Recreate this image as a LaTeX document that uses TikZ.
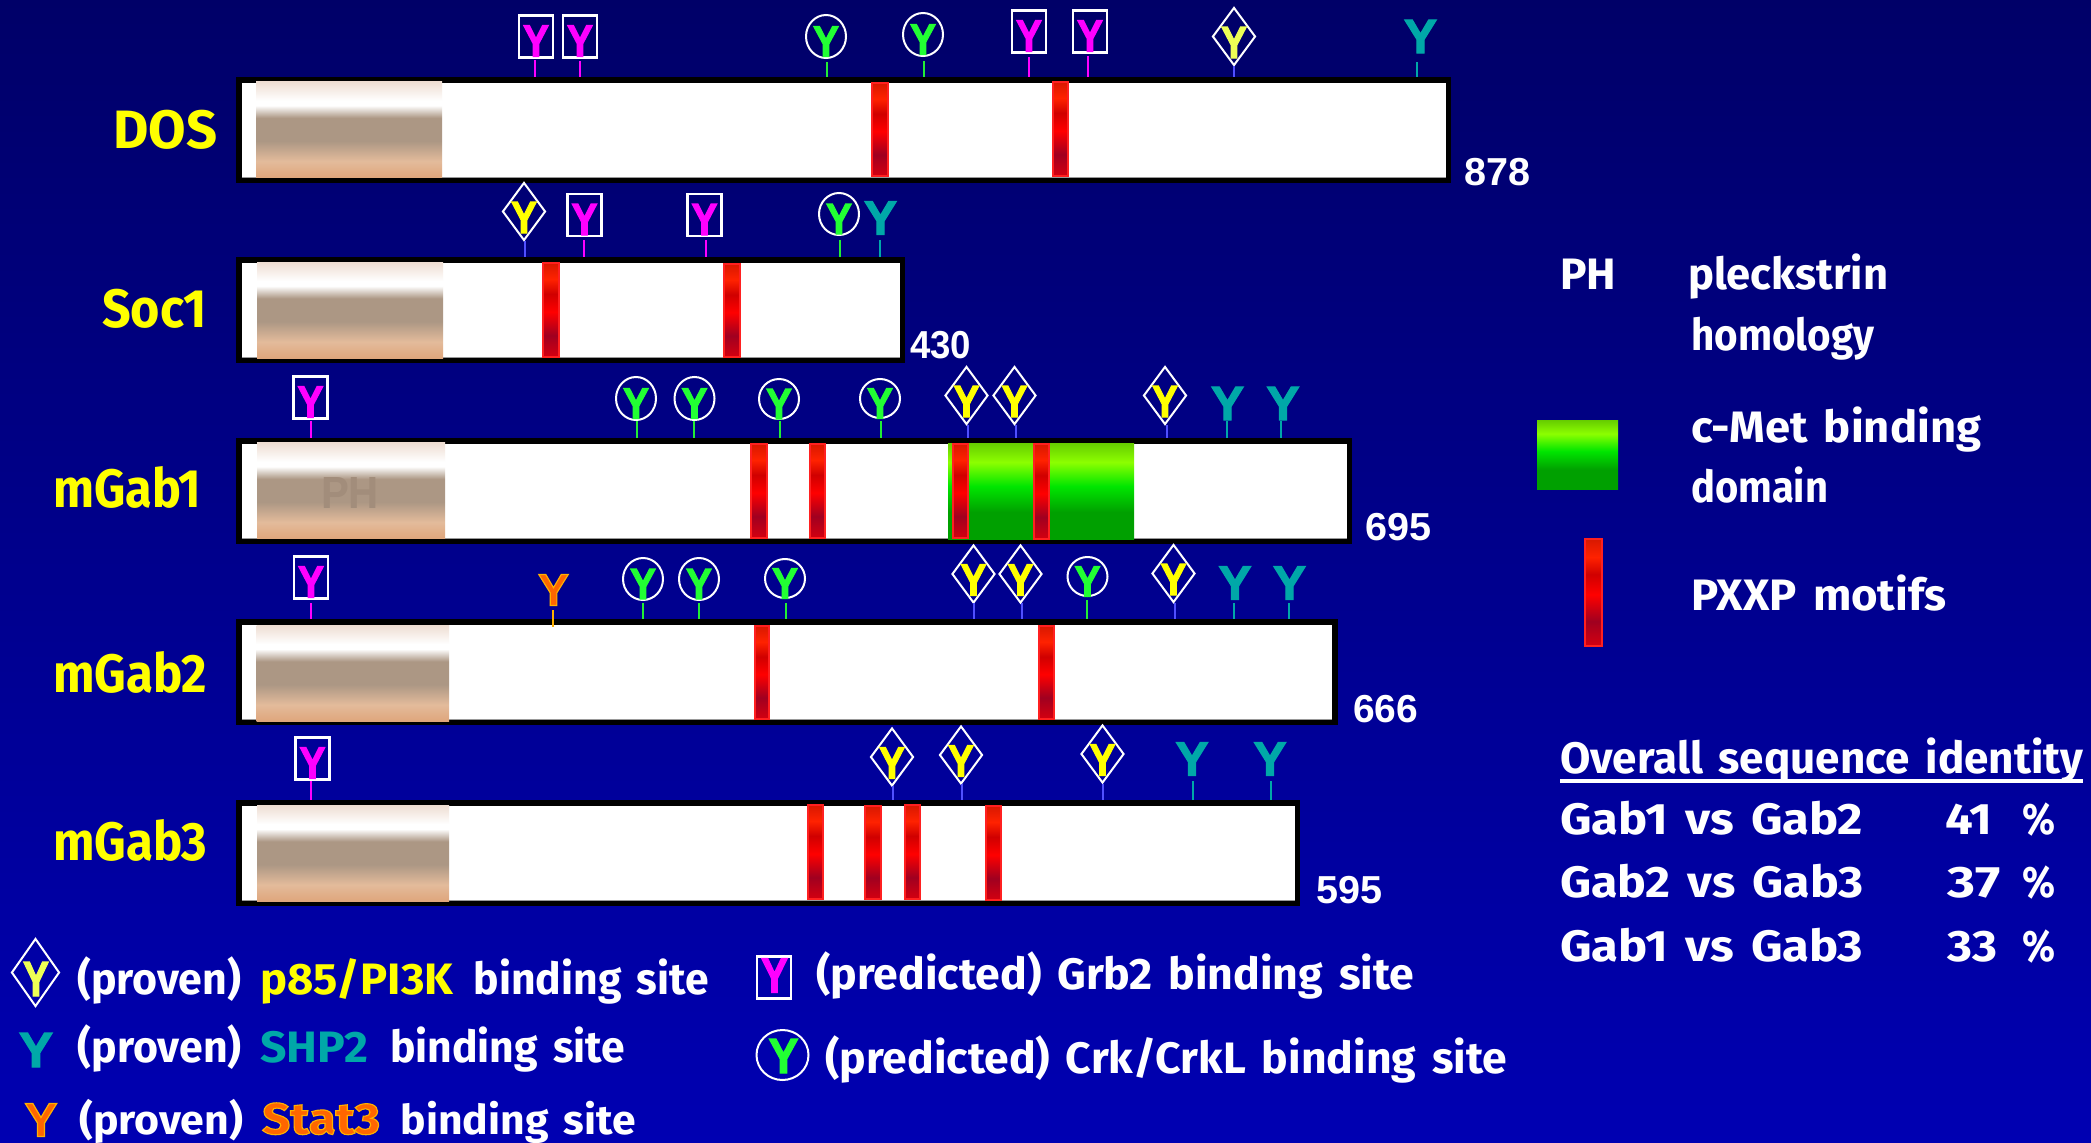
\documentclass[tikz,border=0pt]{standalone}
\usepackage{fontspec}
\usepackage{graphicx}
\usetikzlibrary{shapes.geometric}
\setmainfont{Fira Sans}[WordSpace=1.5]
\newfontfamily\nfont{Liberation Sans}
\newfontfamily\yfont{Liberation Sans}[FakeBold=2.5]
\newfontfamily\statfont{Fira Sans}[FakeBold=2.5]
\definecolor{bgtop}{HTML}{000068}
\definecolor{bgbot}{HTML}{0000B2}
\definecolor{ymag}{HTML}{FF00FF}
\definecolor{ygreen}{HTML}{22FF33}
\definecolor{lgreen}{HTML}{22EE33}
\definecolor{yyel}{HTML}{FFFF00}
\definecolor{ypale}{HTML}{EEFF55}
\definecolor{yteal}{HTML}{00A8A8}
\definecolor{yorange}{HTML}{FF6600}
\definecolor{lorange}{HTML}{FFB000}
\definecolor{lblue}{HTML}{5050FF}
\definecolor{ph0}{HTML}{EEDDD2}
\definecolor{ph1}{HTML}{FFFFFF}
\definecolor{ph2}{HTML}{AC9784}
\definecolor{ph3}{HTML}{E3BB9B}
\definecolor{ph4}{HTML}{DFA67C}
\definecolor{phtext}{HTML}{A28D7B}
\definecolor{gr0}{HTML}{66CC00}
\definecolor{gr1}{HTML}{8CFF00}
\definecolor{gr2}{HTML}{00E600}
\definecolor{gr3}{HTML}{00A000}
\definecolor{re0}{HTML}{D81800}
\definecolor{re1}{HTML}{FF2200}
\definecolor{re2}{HTML}{D00000}
\definecolor{re3}{HTML}{FF0000}
\definecolor{re4}{HTML}{A00020}
\definecolor{re5}{HTML}{D40010}
\definecolor{reborder}{HTML}{FF2020}
\definecolor{barline}{HTML}{999999}
\pgfdeclareverticalshading{phgrad}{100bp}{color(0bp)=(ph4); color(25bp)=(ph4); color(33.5bp)=(ph3); color(44bp)=(ph2); color(56bp)=(ph2); color(62.5bp)=(ph1); color(65bp)=(ph1); color(75bp)=(ph0); color(100bp)=(ph0)}
\pgfdeclareverticalshading{grgrad}{100bp}{color(0bp)=(gr3); color(25bp)=(gr3); color(39bp)=(gr3); color(52.5bp)=(gr2); color(65bp)=(gr1); color(75bp)=(gr0); color(100bp)=(gr0)}
\pgfdeclareverticalshading{regrad}{100bp}{color(0bp)=(re5); color(25bp)=(re5); color(36.5bp)=(re4); color(49bp)=(re3); color(58.5bp)=(re2); color(66.5bp)=(re1); color(75bp)=(re0); color(100bp)=(re0)}
\newcommand{\fit}[2]{\resizebox{#1pt}{\height}{#2}}
\newcommand{\glyphY}[2]{\resizebox{#1pt}{#2pt}{Y}}
\tikzset{
  barbox/.style={draw=black,fill=white,line width=5.5pt,inner sep=0pt},
  sitebox/.style={draw=white,line width=2.2pt,rectangle,minimum width=34pt,minimum height=42pt,inner sep=0pt},
  siteoval/.style={draw=white,line width=2pt,ellipse,inner sep=0pt,minimum width=40pt},
  sitedia/.style={draw=white,line width=2pt,diamond,inner sep=0pt,minimum width=43pt,minimum height=58pt},
  yglyph/.style={inner sep=0pt,font=\yfont\bfseries},
  leader/.style={line width=2pt},
  txt/.style={inner sep=0pt,anchor=base west,text=white,font=\bfseries\fontsize{44}{44}\selectfont},
  lab/.style={inner sep=0pt,anchor=base west,text=yyel,font=\bfseries\fontsize{54}{54}\selectfont},
  num/.style={inner sep=0pt,anchor=base west,text=white,font=\nfont\bfseries\fontsize{39}{39}\selectfont},
}
% name x0 y0 x1 y1 (outer edges)
\newcommand{\barnode}[5]{%
  \node[barbox,minimum width={(#4-#2-5.5)*1pt},minimum height={(#5-#3-5.5)*1pt}] (#1) at ({(#2+#4)/2},{(#3+#5)/2}) {};
  \draw[barline,line width=1pt] ([shift={(5.5pt,6pt)}]#1.south west) -- ([shift={(-5.5pt,6pt)}]#1.south east);}
\newcommand{\phdomain}[4]{\shade[shading=phgrad] (#1,#2) rectangle (#3,#4);}
\newcommand{\motif}[4]{\shade[shading=regrad,draw=reborder,line width=2pt] (#1+1,#3+1) rectangle (#2-1,#4-1);}
% name cx cy lx ltop bar
\newcommand{\boxsite}[6]{%
  \node[sitebox] (#1) at (#2,#3) {};
  \node[yglyph,text=ymag] (#1y) at (#2,#3+4.5) {\glyphY{26}{31}};
  \coordinate (#1t) at (#4,#5);
  \draw[leader,ymag] (#1t) -- (#1t |- #6.north);}
\newcommand{\ovalsite}[7][42]{%
  \node[siteoval,minimum height=#1 pt] (#2) at (#3,#4) {};
  \node[yglyph,text=ygreen] (#2y) at (#3,#4+5) {\glyphY{26}{30}};
  \coordinate (#2t) at (#5,#6);
  \draw[leader,lgreen] (#2t) -- (#2t |- #7.north);}
\newcommand{\diasite}[7][yyel]{%
  \node[sitedia] (#2) at (#3,#4) {};
  \node[yglyph,text=#1] (#2y) at (#3,#4+6) {\glyphY{26}{31}};
  \coordinate (#2t) at (#5,#6);
  \draw[leader,lblue] (#2t) -- (#2t |- #7.north);}
\newcommand{\tealsite}[6]{%
  \node[yglyph,text=yteal] (#1) at (#2,#3) {\glyphY{33}{33}};
  \coordinate (#1t) at (#4,#5);
  \draw[leader,yteal] (#1t) -- (#1t |- #6.north);}
\begin{document}
\begin{tikzpicture}[x=1pt,y=-1pt]
\useasboundingbox (0,0) rectangle (2091,1143);
\shade[top color=bgtop,bottom color=bgbot] (0,0) rectangle (2091,1143);

% bars
\barnode{dos}{236}{77}{1451}{183}
\barnode{soc}{236}{257}{905}{363}
\barnode{gabone}{236}{438}{1352}{544}
\barnode{gabtwo}{236}{619}{1337.5}{725}
\barnode{gabthree}{236}{800}{1300}{906}

% PH domains
\phdomain{256}{81.5}{442}{177.5}
\phdomain{257}{262}{443}{358}
\phdomain{257}{442.5}{445}{538.5}
\phdomain{256.5}{625}{449}{721}
\phdomain{257}{805}{449}{901}
\node[inner sep=0pt,text=phtext,font=\nfont\bfseries] (phword) at (350,492.5) {\resizebox{58pt}{31pt}{PH}};

% c-Met domain
\shade[shading=grgrad] (948,443) rectangle (1134,539);

% PXXP motifs
\motif{871}{889}{82}{177}
\motif{1052}{1069}{81}{177}
\motif{542}{560}{262}{358}
\motif{723}{741}{263}{358}
\motif{750}{768}{443}{539}
\motif{808.5}{826}{443}{539}
\motif{952}{969}{443}{539}
\motif{1033}{1050}{443}{540}
\motif{753.5}{770}{625}{720}
\motif{1038}{1055}{625}{720}
\motif{807}{824}{804}{900}
\motif{864}{882}{805}{900}
\motif{904}{921}{804}{900}
\motif{985}{1002}{805}{901}

% DOS sites
\boxsite{da}{536}{36.5}{535}{60}{dos}
\boxsite{db}{580}{36.5}{580}{61}{dos}
\ovalsite[43]{dc}{826}{36.5}{827}{62}{dos}
\ovalsite[43]{dd}{923}{34.5}{923.5}{61}{dos}
\boxsite{de}{1029}{31.5}{1029}{57}{dos}
\boxsite{df}{1090}{31.5}{1088}{56}{dos}
\diasite[ypale]{dg}{1234}{36.5}{1234}{66}{dos}
\tealsite{dh}{1420.5}{36.5}{1417}{62}{dos}

% Soc1 sites
\diasite{sa}{524}{211.5}{525}{241}{soc}
\boxsite{sb}{584.5}{215}{584}{240}{soc}
\boxsite{sc}{704.5}{215}{705.5}{240}{soc}
\ovalsite{sd}{839}{214}{840}{240}{soc}
\tealsite{se}{880.5}{218}{880}{240}{soc}

% mGab1 sites
\boxsite{aa}{310.5}{397.5}{311}{421}{gabone}
\ovalsite[43]{ab}{636}{398.5}{636.6}{421}{gabone}
\ovalsite[43]{ac}{694.5}{398.5}{694}{421}{gabone}
\ovalsite[40]{ad}{779}{399}{779.5}{421}{gabone}
\ovalsite[39]{ae}{880}{398.5}{880.5}{421}{gabone}
\diasite{af}{966.5}{395.5}{967.7}{425}{gabone}
\diasite{ag}{1014.5}{395.5}{1015.7}{425}{gabone}
\diasite{ah}{1165}{395.5}{1167}{425}{gabone}
\tealsite{ai}{1227.5}{403.5}{1227}{421}{gabone}
\tealsite{aj}{1283}{403.5}{1281}{421}{gabone}

% mGab2 sites
\boxsite{ba}{311}{577.5}{311}{603}{gabtwo}
\node[yglyph,text=yorange] (bb) at (553.5,590) {\special{pdf:bcolor [1 0.4 0] [1 0.69 0]}\glyphY{31}{31}\special{pdf:ecolor}};
\coordinate (bbt) at (552.5,610);
\coordinate (bbe) at (552.5,627);
\draw[leader,lorange] (bbt) -- (bbe);
\ovalsite{bc}{643}{579}{643}{603}{gabtwo}
\ovalsite{bd}{699}{579}{699}{603}{gabtwo}
\ovalsite[39]{be}{785}{578.5}{785.6}{603}{gabtwo}
\diasite{bf}{973.5}{574}{973.7}{603}{gabtwo}
\diasite{bg}{1020.5}{574}{1021.7}{603}{gabtwo}
\ovalsite[39]{bh}{1087.5}{576.5}{1087}{600}{gabtwo}
\diasite{bi}{1173.5}{573.5}{1175}{603}{gabtwo}
\tealsite{bj}{1235}{583}{1234}{603}{gabtwo}
\tealsite{bk}{1289.5}{583}{1288.7}{603}{gabtwo}

% mGab3 sites
\boxsite{ca}{312.5}{758.5}{311}{781}{gabthree}
\diasite{cb}{892}{757}{893}{786}{gabthree}
\diasite{cc}{961}{755}{962}{784}{gabthree}
\diasite{cd}{1102.5}{754}{1103}{784}{gabthree}
\tealsite{ce}{1192}{759}{1193}{781}{gabthree}
\tealsite{cf}{1270}{759}{1271}{781}{gabthree}

% protein names
\node[lab] (ldos) at (113,148) {\fit{104}{DOS}};
\node[lab] (lsoc) at (102,327) {\fit{105}{Soc1}};
\node[lab] (lgaba) at (53,507) {\fit{148}{mGab1}};
\node[lab] (lgabb) at (53,692) {\fit{154}{mGab2}};
\node[lab] (lgabc) at (53,860) {\fit{154}{mGab3}};

% lengths
\node[num] (n1) at (1464,185) {\fit{66}{878}};
\node[num] (n2) at (910,358) {\fit{61}{430}};
\node[num] (n3) at (1365,540) {\fit{66}{695}};
\node[num] (n4) at (1353,722) {\fit{65}{666}};
\node[num] (n5) at (1316,903) {\fit{66}{595}};

% right legend
\node[txt] (kpha) at (1560,289) {\fit{56}{PH}};
\node[txt] (kphb) at (1688,289) {\fit{200}{pleckstrin}};
\node[txt] (kphc) at (1691,350) {\fit{183}{homology}};
\shade[shading=grgrad] (1537,420) rectangle (1618,489);
\node[txt] (kma) at (1691,442) {\fit{290}{c-Met binding}};
\node[txt] (kmb) at (1691,502) {\fit{137}{domain}};
\shade[shading=regrad,draw=reborder,line width=2pt] (1585,539) rectangle (1602,646);
\node[txt] (kpx) at (1691,610) {\fit{255}{PXXP motifs}};

% identity table
\node[txt] (ov) at (1560,773) {\fit{523}{Overall sequence identity}};
\draw[white,line width=3.5pt] (ov.base west |- 0,781) -- (ov.base east |- 0,781);
\node[txt] (g1) at (1560,834) {\fit{303}{Gab1 vs Gab2}};
\node[txt] (g1n) at (1945,834) {\fit{47}{41}};
\node[txt] (g1p) at (2022,834) {\fit{33}{\%}};
\node[txt] (g2) at (1560,897) {\fit{303}{Gab2 vs Gab3}};
\node[txt] (g2n) at (1947,897) {\fit{53}{37}};
\node[txt] (g2p) at (2022,897) {\fit{33}{\%}};
\node[txt] (g3) at (1560,961) {\fit{303}{Gab1 vs Gab3}};
\node[txt] (g3n) at (1947,961) {\fit{50}{33}};
\node[txt] (g3p) at (2022,961) {\fit{33}{\%}};

% bottom legend
\node[sitedia,minimum width=48pt,minimum height=68pt] (kd) at (35.5,972.5) {};
\node[yglyph,text=ypale] (kdy) at (36,979) {\glyphY{26}{34}};
\node[txt] (ka1) at (77,994) {\fit{164}{(proven)}};
\node[txt,text=yyel] (ka2) at (260,994) {\fit{193}{p85/PI3K}};
\node[txt] (ka3) at (473.5,994) {\fit{235}{binding site}};
\node[yglyph,text=yteal] (kt) at (36,1050) {\glyphY{34}{34}};
\node[txt] (kb1) at (77.5,1062) {\fit{164}{(proven)}};
\node[txt,text=yteal] (kb2) at (260,1062) {\fit{108}{SHP2}};
\node[txt] (kb3) at (390,1062) {\fit{235}{binding site}};
\node[yglyph,text=yorange] (ko) at (41,1120) {\special{pdf:bcolor [1 0.4 0] [1 0.69 0]}\glyphY{33}{33}\special{pdf:ecolor}};
\node[txt,font=\bfseries\fontsize{41}{41}\selectfont] (kc1) at (79,1134) {\fit{164}{(proven)}};
\node[txt,font=\statfont\bfseries\fontsize{44}{44}\selectfont] (kc2) at (262,1134) {\special{pdf:bcolor [1 0.4 0] [1 0.69 0]}\fit{118}{Stat3}\special{pdf:ecolor}};
\node[txt,font=\bfseries\fontsize{41}{41}\selectfont] (kc3) at (400.5,1134) {\fit{235}{binding site}};
\node[sitebox] (kg) at (774,977.5) {};
\node[yglyph,text=ymag] (kgy) at (774.5,975.5) {\glyphY{27}{34}};
\node[txt] (kg1) at (816,989) {\fit{598}{(predicted) Grb2 binding site}};
\node[siteoval,minimum width=52pt,minimum height=50pt] (kk) at (782.5,1055) {};
\node[yglyph,text=ygreen] (kky) at (783.5,1056) {\glyphY{30}{34}};
\node[txt] (kk1) at (825,1073) {\fit{682}{(predicted) Crk/CrkL binding site}};
\end{tikzpicture}
\end{document}
